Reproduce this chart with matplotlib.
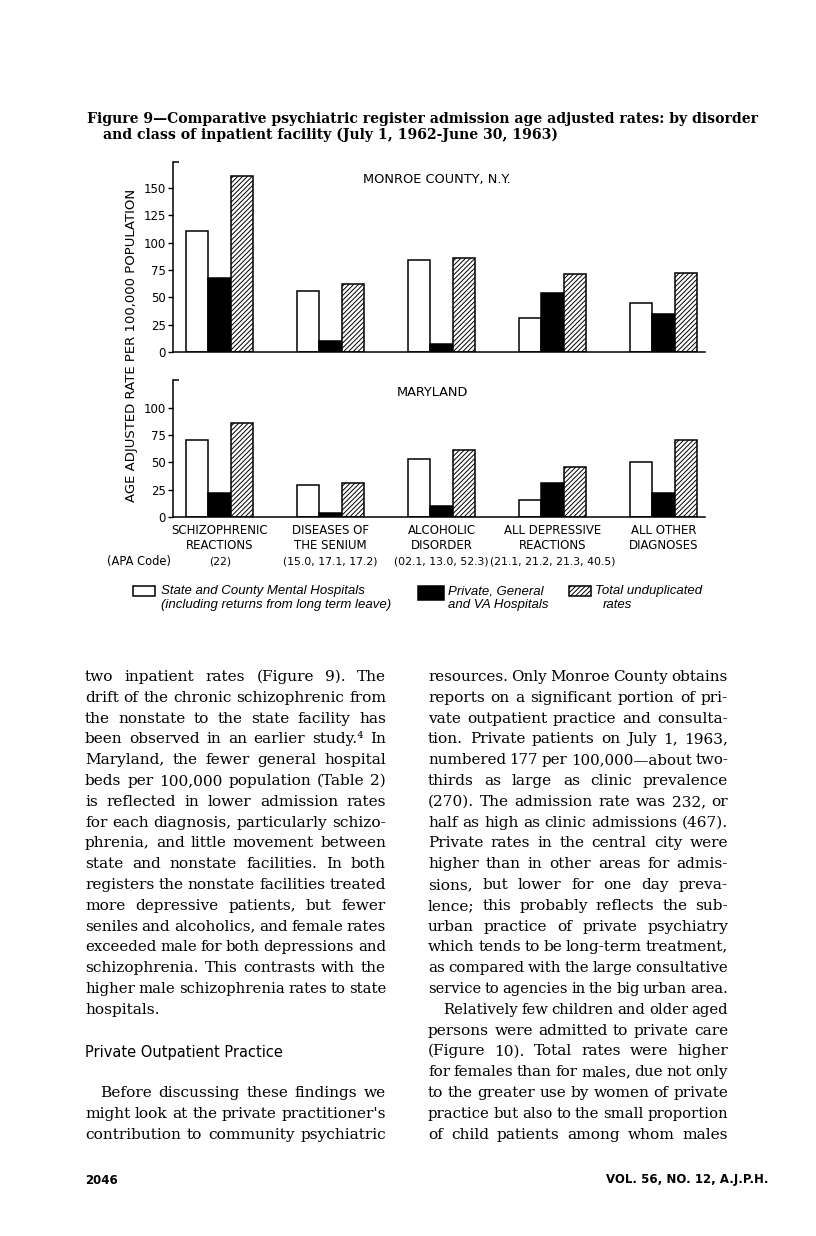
import matplotlib
matplotlib.use('Agg')
import matplotlib.pyplot as plt
from matplotlib.patches import Rectangle
import matplotlib.transforms as mtrans
import numpy as np

W, H = 816, 1236
plt.rcParams['hatch.linewidth'] = 0.7
plt.rcParams['font.family'] = ['DejaVu Sans']

# ---------------- data ----------------
cat_line1 = ["SCHIZOPHRENIC", "DISEASES OF", "ALCOHOLIC", "ALL DEPRESSIVE", "ALL OTHER"]
cat_line2 = ["REACTIONS", "THE SENIUM", "DISORDER", "REACTIONS", "DIAGNOSES"]
apa_codes = ["(22)", "(15.0, 17.1, 17.2)", "(02.1, 13.0, 52.3)", "(21.1, 21.2, 21.3, 40.5)", ""]

monroe_state = [111, 56, 84, 31, 45]
monroe_private = [68, 10, 7, 54, 35]
monroe_total = [161, 62, 86, 71, 72]

maryland_state = [70, 29, 53, 16, 50]
maryland_private = [22, 4, 10, 31, 22]
maryland_total = [86, 31, 61, 46, 70]

yticks_top = [0, 25, 50, 75, 100, 125, 150]
yticks_bottom = [0, 25, 50, 75, 100]

legend_labels = [["State and County Mental Hospitals", "(including returns from long term leave)"],
                 ["Private, General", "and VA Hospitals"],
                 ["Total unduplicated", "rates"]]

caption = ["Figure 9\u2014Comparative psychiatric register admission age adjusted rates: by disorder",
           "and class of inpatient facility (July 1, 1962-June 30, 1963)"]

left_col = [
    ("two inpatient rates (Figure 9). The", 1, 0),
    ("drift of the chronic schizophrenic from", 1, 0),
    ("the nonstate to the state facility has", 1, 0),
    ("been observed in an earlier study.\u2074 In", 1, 0),
    ("Maryland, the fewer general hospital", 1, 0),
    ("beds per 100,000 population (Table 2)", 1, 0),
    ("is reflected in lower admission rates", 1, 0),
    ("for each diagnosis, particularly schizo-", 1, 0),
    ("phrenia, and little movement between", 1, 0),
    ("state and nonstate facilities. In both", 1, 0),
    ("registers the nonstate facilities treated", 1, 0),
    ("more depressive patients, but fewer", 1, 0),
    ("seniles and alcoholics, and female rates", 1, 0),
    ("exceeded male for both depressions and", 1, 0),
    ("schizophrenia. This contrasts with the", 1, 0),
    ("higher male schizophrenia rates to state", 1, 0),
    ("hospitals.", 0, 0),
]
left_col2 = [
    ("Before discussing these findings we", 1, 1),
    ("might look at the private practitioner's", 1, 0),
    ("contribution to community psychiatric", 1, 0),
]
right_col = [
    ("resources. Only Monroe County obtains", 1, 0),
    ("reports on a significant portion of pri-", 1, 0),
    ("vate outpatient practice and consulta-", 1, 0),
    ("tion. Private patients on July 1, 1963,", 1, 0),
    ("numbered 177 per 100,000\u2014about two-", 1, 0),
    ("thirds as large as clinic prevalence", 1, 0),
    ("(270). The admission rate was 232, or", 1, 0),
    ("half as high as clinic admissions (467).", 1, 0),
    ("Private rates in the central city were", 1, 0),
    ("higher than in other areas for admis-", 1, 0),
    ("sions, but lower for one day preva-", 1, 0),
    ("lence; this probably reflects the sub-", 1, 0),
    ("urban practice of private psychiatry", 1, 0),
    ("which tends to be long-term treatment,", 1, 0),
    ("as compared with the large consultative", 1, 0),
    ("service to agencies in the big urban area.", 1, 0),
    ("Relatively few children and older aged", 1, 1),
    ("persons were admitted to private care", 1, 0),
    ("(Figure 10). Total rates were higher", 1, 0),
    ("for females than for males, due not only", 1, 0),
    ("to the greater use by women of private", 1, 0),
    ("practice but also to the small proportion", 1, 0),
    ("of child patients among whom males", 1, 0),
]

# ---------------- figure ----------------
fig = plt.figure(figsize=(W / 100, H / 100), dpi=100)
fig.patch.set_facecolor('white')
R = fig.canvas.get_renderer()


def fx(x):
    return x / W


def fy(y):
    return 1 - y / H


def add_axes_px(l, t, r, b):
    return fig.add_axes([fx(l), fy(b), (r - l) / W, (b - t) / H])


def text_width(s, **kw):
    t = fig.text(0, 0, s, **kw)
    w = t.get_window_extent(R).width
    t.remove()
    return w


ax1 = add_axes_px(173, 162, 705, 352)
ax2 = add_axes_px(173, 380, 705, 517)

bw = 22.5 / 111
x = np.arange(len(cat_line1))
panels = [(ax1, monroe_state, monroe_private, monroe_total, 173.8, yticks_top),
          (ax2, maryland_state, maryland_private, maryland_total, 125.3, yticks_bottom)]
for ax, st, pr, tot, ymax, yt in panels:
    ax.patch.set_alpha(0)
    ax.bar(x - bw, st, bw, facecolor='white', edgecolor='black', lw=1.1)
    ax.bar(x, pr, bw, facecolor='black', edgecolor='black', lw=1.1)
    ax.bar(x + bw, tot, bw, facecolor='white', edgecolor='black', hatch='///////', lw=1.1)
    ax.set_xlim(-0.421, 4.372)
    ax.set_ylim(0, ymax)
    ax.set_yticks(yt)
    ax.set_xticks([])
    for s in ['top', 'right']:
        ax.spines[s].set_visible(False)
    for s in ['left', 'bottom']:
        ax.spines[s].set_linewidth(1.1)
    ax.tick_params(axis='y', direction='out', length=3.5, width=1.0, pad=1.5, labelsize=8.5)
    ax.plot([0, 0.012], [1, 1], transform=ax.transAxes, color='black', lw=1.1,
            clip_on=False, solid_capstyle='butt')

fig.text(fx(363), fy(179), "MONROE COUNTY, N.Y.", fontsize=9.3, va='center', ha='left')
fig.text(fx(397), fy(393), "MARYLAND", fontsize=9.3, va='center', ha='left')
fig.text(fx(131), fy(345), "AGE ADJUSTED RATE PER 100,000 POPULATION", fontsize=9.5,
         rotation=90, ha='center', va='center')

tr = mtrans.blended_transform_factory(ax2.transData, fig.transFigure)
for i in range(len(cat_line1)):
    ax2.text(x[i], fy(530), cat_line1[i], transform=tr, ha='center', va='center', fontsize=8.5)
    ax2.text(x[i], fy(545.5), cat_line2[i], transform=tr, ha='center', va='center', fontsize=8.5)
    if apa_codes[i]:
        ax2.text(x[i], fy(561), apa_codes[i], transform=tr, ha='center', va='center', fontsize=7.8)
fig.text(fx(171), fy(561), "(APA Code)", ha='right', va='center', fontsize=8.3)

# legend
lg_font = dict(fontsize=9.5, family='Liberation Sans', style='italic', va='center', ha='left')
fig.add_artist(Rectangle((fx(133), fy(596)), 22 / W, 10 / H, transform=fig.transFigure,
                         facecolor='white', edgecolor='black', lw=1.1))
fig.add_artist(Rectangle((fx(418), fy(600)), 26 / W, 14 / H, transform=fig.transFigure,
                         facecolor='black', edgecolor='black', lw=1.1))
fig.add_artist(Rectangle((fx(569), fy(596)), 22 / W, 10 / H, transform=fig.transFigure,
                         facecolor='white', edgecolor='black', hatch='///////', lw=1.1))
for (l1, l2), x0, x1 in zip(legend_labels, [161, 448, 595], [161, 448, 603]):
    fig.text(fx(x0), fy(591), l1, **lg_font)
    fig.text(fx(x1), fy(605), l2, **lg_font)


def put_line(s, x0, x1, ybase, justify, fs, kw, min_gap_em=0.22):
    words = s.split(' ')
    while True:
        ts, ws = [], []
        for wd in words:
            t = fig.text(0, 0, wd, fontsize=fs, va='baseline', ha='left', **kw)
            ts.append(t)
            ws.append(t.get_window_extent(R).width)
        min_gap = min_gap_em * fs * 100 / 72
        if not justify or len(words) < 2 or (x1 - x0 - sum(ws)) / (len(words) - 1) >= min_gap:
            break
        for t in ts:
            t.remove()
        fs -= 0.1
    if justify and len(words) > 1:
        gap = (x1 - x0 - sum(ws)) / (len(words) - 1)
    else:
        gap = 0.3 * fs * 100 / 72
    xx = x0
    for t, w in zip(ts, ws):
        t.set_position((fx(xx), fy(ybase)))
        xx += w + gap


# caption (bold serif), size fitted to the printed width of the first line
cap_kw = dict(family='DejaVu Serif', weight='bold')
w10 = text_width(caption[0], fontsize=10, **cap_kw)
cap_fs = 10 * (762 - 87) / w10
fig.text(fx(87), fy(119), caption[0], fontsize=cap_fs, va='center', ha='left', **cap_kw)
fig.text(fx(103), fy(135), caption[1], fontsize=cap_fs, va='center', ha='left', **cap_kw)

# body text (justified)
body_kw = dict(family='DejaVu Serif')
body_fs = 11.1
spacing = 20.8
base0 = 681
for i, (s, j, ind) in enumerate(left_col):
    put_line(s, 85 + 15 * ind, 386, base0 + spacing * i, j, body_fs, body_kw)
for i, (s, j, ind) in enumerate(left_col2):
    put_line(s, 85 + 15 * ind, 386, base0 + spacing * (20 + i), j, body_fs, body_kw)
for i, (s, j, ind) in enumerate(right_col):
    put_line(s, 428 + 15 * ind, 728, base0 + spacing * i, j, body_fs, body_kw)

fig.text(fx(85), fy(1053), "Private Outpatient Practice", fontsize=10.5, va='center', ha='left')

fig.text(fx(85), fy(1180), "2046", fontsize=8.5, weight='bold', va='center', ha='left')
fig.text(fx(768), fy(1180), "VOL. 56, NO. 12, A.J.P.H.", fontsize=8.5, weight='bold',
         va='center', ha='right')

fig.savefig('out.png', dpi=100, facecolor='white')
